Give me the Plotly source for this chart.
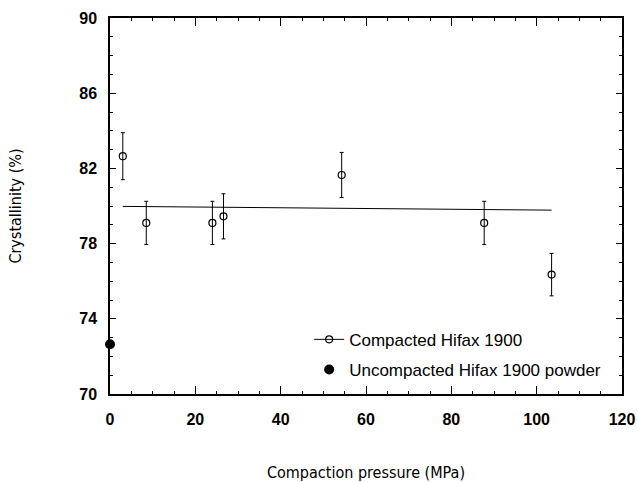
import plotly.graph_objects as go

# Compacted Hifax 1900 data
pressure = [3.0, 8.5, 24.0, 26.6, 54.3, 87.7, 103.5]
crystallinity = [82.65, 79.1, 79.1, 79.45, 81.65, 79.1, 76.35]
err = [1.25, 1.15, 1.15, 1.2, 1.2, 1.15, 1.13]

# Fitted line
fit_x = [3.0, 103.5]
fit_y = [79.98, 79.78]

# Uncompacted powder
powder_x = [0.0]
powder_y = [72.65]

label_font = "DejaVu Sans Condensed, Liberation Sans Narrow, Arial Narrow, Liberation Sans, Arial, sans-serif"

fig = go.Figure()

fig.add_trace(go.Scatter(
    x=fit_x, y=fit_y, mode="lines",
    line=dict(color="black", width=1),
    showlegend=False, hoverinfo="skip",
))

fig.add_trace(go.Scatter(
    x=pressure, y=crystallinity, mode="markers",
    marker=dict(symbol="circle-open", size=7, color="black", line=dict(width=1.2)),
    error_y=dict(type="data", array=err, visible=True, color="black", thickness=1, width=2),
    showlegend=False,
))

# Legend entries
fig.add_trace(go.Scatter(
    x=[None], y=[None], mode="lines+markers",
    name="Compacted Hifax 1900",
    line=dict(color="black", width=1),
    marker=dict(symbol="circle-open", size=7, color="black", line=dict(width=1.2)),
    legendgroup="a",
))

fig.add_trace(go.Scatter(
    x=powder_x, y=powder_y, mode="markers",
    name="Uncompacted Hifax 1900 powder",
    marker=dict(symbol="circle", size=10, color="black"),
    cliponaxis=False,
    legendgroup="b",
))

fig.update_layout(
    width=638, height=482,
    margin=dict(l=110, r=16, t=18, b=88, autoexpand=False),
    paper_bgcolor="white", plot_bgcolor="white",
    showlegend=True,
    legend=dict(
        x=0.389, y=0.192, xanchor="left", yanchor="top",
        bgcolor="rgba(0,0,0,0)",
        font=dict(family="Liberation Sans, Arial, sans-serif", size=17, color="black"),
        tracegroupgap=5,
    ),
    xaxis=dict(
        range=[0, 120], automargin=False,
        tickmode="linear", tick0=0, dtick=20,
        ticks="inside", ticklen=8, tickwidth=1, tickcolor="black",
        minor=dict(dtick=5, ticks="inside", ticklen=3, tickwidth=1, tickcolor="black"),
        showline=True, linecolor="black", linewidth=1.5, mirror="ticks",
        showgrid=False, zeroline=False,
        tickfont=dict(family="Liberation Sans, Arial, sans-serif", size=16, color="black", weight="bold"),
        ticklabelstandoff=10,
        title=dict(text="Compaction pressure (MPa)",
                   font=dict(family=label_font, size=16, color="black"),
                   standoff=44),
    ),
    yaxis=dict(
        range=[70, 90], automargin=False,
        tickmode="linear", tick0=70, dtick=4,
        ticks="inside", ticklen=6, tickwidth=1, tickcolor="black",
        minor=dict(dtick=1, ticks="inside", ticklen=3, tickwidth=1, tickcolor="black"),
        showline=True, linecolor="black", linewidth=1.5, mirror="ticks",
        showgrid=False, zeroline=False,
        tickfont=dict(family="Liberation Sans, Arial, sans-serif", size=16, color="black", weight="bold"),
        ticklabelstandoff=8,
        title=dict(text="Crystallinity (%)",
                   font=dict(family=label_font, size=16, color="black"),
                   standoff=54),
    ),
)

fig.write_html("out.html")
